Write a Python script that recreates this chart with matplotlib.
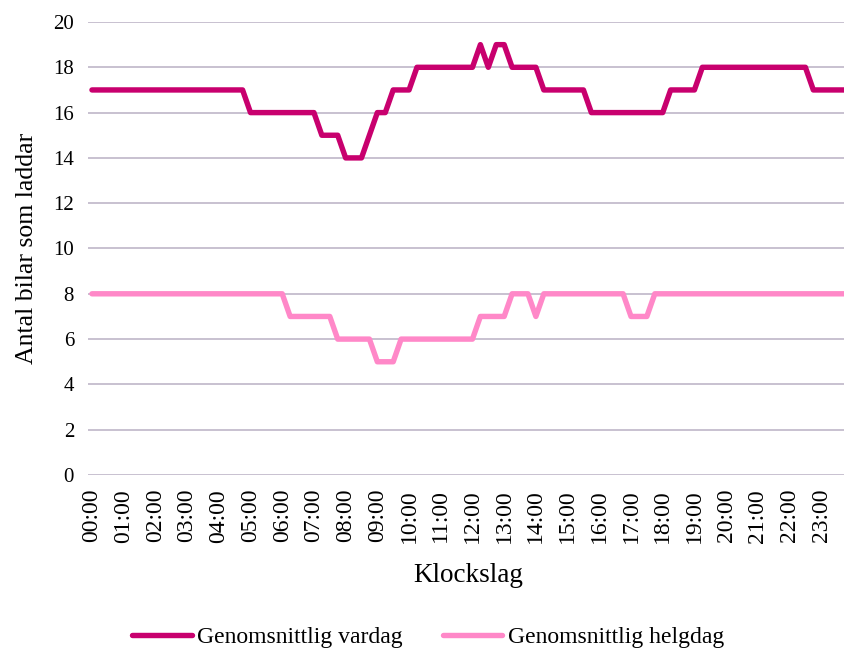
import matplotlib
matplotlib.use("Agg")
import matplotlib.pyplot as plt

# ── Data: 15-minute samples over one day (96 points) ─────────────────────
hour_labels = [f"{h:02d}:00" for h in range(24)]

vardag = ([17] * 20 + [16] * 9 + [15] * 3 + [14] * 3 + [15] + [16] * 2
          + [17] * 3 + [18] * 8 + [19] + [18] + [19] * 2 + [18] * 4
          + [17] * 6 + [16] * 10 + [17] * 4 + [18] * 14 + [17] * 5)

helgdag = ([8] * 25 + [7] * 6 + [6] * 5 + [5] * 3 + [6] * 10 + [7] * 4
           + [8] * 3 + [7] + [8] * 11 + [7] * 3 + [8] * 25)

x = list(range(len(vardag)))

# ── Plot setup ────────────────────────────────────────────────────────────
plt.rcParams["font.family"] = ["Liberation Serif", "DejaVu Serif"]

fig = plt.figure(figsize=(8.45, 6.5), dpi=100)
ax = fig.add_axes([88 / 845, 1 - 475 / 650, (849 - 88) / 845, (475 - 22) / 650])

line_kw = dict(lw=3.9, solid_joinstyle="round", solid_capstyle="round")
ax.plot(x, vardag, color="#c8006e", label="Genomsnittlig vardag", **line_kw)
ax.plot(x, helgdag, color="#ff88c8", label="Genomsnittlig helgdag", **line_kw)

ax.set_xlim(-0.5, 95.5)
ax.set_ylim(0, 20)
ax.set_yticks(range(0, 21, 2))
ax.set_xticks(range(0, 96, 4))
ax.set_xticklabels(hour_labels, rotation=90)
ax.tick_params(axis="x", length=0, labelsize=17, pad=10)
ax.tick_params(axis="y", length=0, labelsize=15, pad=10)

ax.grid(axis="y", color="#c4bccd", lw=1.3)
ax.set_axisbelow(True)
for s in ax.spines.values():
    s.set_visible(False)

ax.set_ylabel("Antal bilar som laddar", fontsize=18.5, labelpad=11)
ax.set_xlabel("Klockslag", fontsize=19.5, labelpad=15)

fig.legend(loc="lower center", bbox_to_anchor=(0.507, -0.03), ncol=2,
           frameon=False, fontsize=17, handlelength=2.5, handletextpad=0.25,
           columnspacing=1.7)

fig.savefig("out.png", dpi=100)
